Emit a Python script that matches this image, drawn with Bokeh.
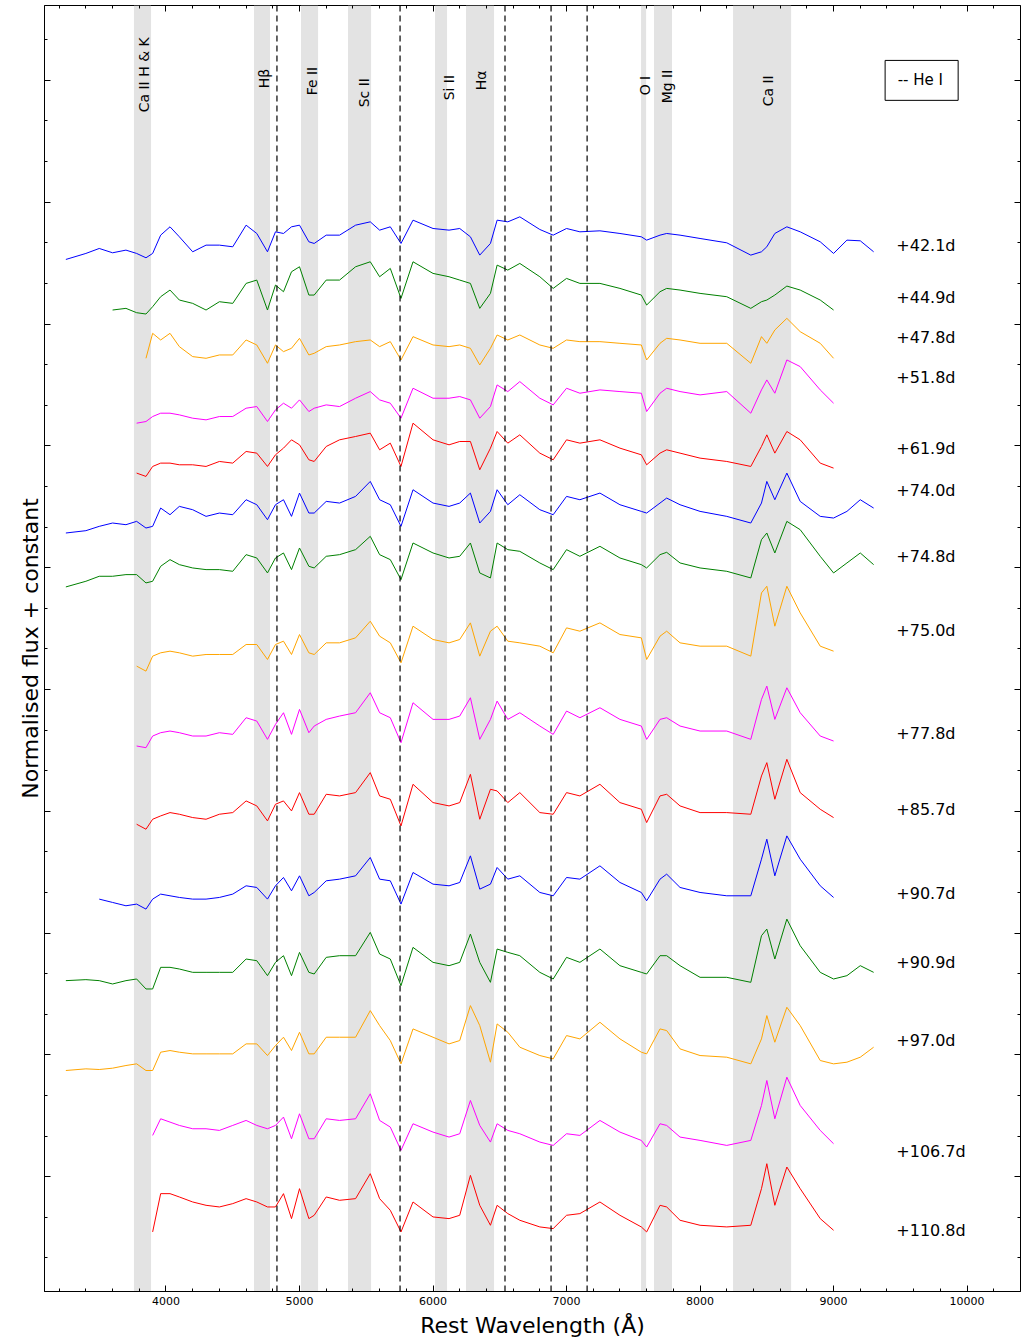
import math
import numpy as np
from bokeh.plotting import figure
from bokeh.models import (Range1d, BoxAnnotation, Span, LinearAxis, SingleIntervalTicker,
                          CustomJSTickFormatter)
from bokeh.embed import file_html
from bokeh.resources import INLINE
from bokeh.core.properties import value

FONT = "DejaVu Sans"
N = None

# Rest wavelength grid (Angstrom)
wave = [3250, 3400, 3500, 3600, 3700, 3780, 3850, 3900, 3960, 4030, 4100, 4200, 4300, 4400, 4500,
        4600, 4680, 4760, 4820, 4880, 4940, 5000, 5070, 5110, 5200, 5300, 5420, 5530, 5600, 5680,
        5760, 5850, 6000, 6120, 6200, 6280, 6350, 6430, 6480, 6560, 6650, 6800, 6900, 7000, 7100,
        7250, 7400, 7560, 7600, 7700, 7750, 7850, 8000, 8200, 8380, 8460, 8500, 8560, 8650, 8750,
        8900, 9000, 9100, 9200, 9300]

# Flux readings (depth units, larger = lower), one list per epoch
f_42_1 = [178,160,145,158,150,160,173,160,105,80, 110,155,135,135,140,75,100,155,95,100,
          80,75,125,130,105,105,75,65,90,80, 130,60,85,90,85,110,165,130,60,65,
          50,88,105,85,95,92,100,110,120,105, 100,105,115,128,165,155,140,100,80,95,
          125,160,120,122,155]
f_44_9 = [N,N,N, 330,325,338,342,320,290,270,300,310,330, 305,310,250,240,330,255,275,215,200,285,
          285,240,240,200,185,230,205,295,185,220, 230,240,250,325,280,195,210,190,230,265,
          235,250,250,265,285,315,275,265,270,280, 290,325,305,300,285,258,270,300,330, N,N,N]
f_47_8 = [N,N,N,N,N,N, 475,400,420,400,440,470,475,465,465,420, 435,490,435,455,445,415,465,460,440,435,
          425,420,440,425,480,410,435,440,435,445, 495,445,405,420,405,435,445,420,425,425,
          430,435,480,430,415,420,430,430,490,410, 430,390,355,395,430,475, N,N,N]
f_51_8 = [N,N,N,N,N, 670,665,650,640,640,645,655,660,650,650, 625,620,665,630,610,625,600,635,625,615,
          620,595,575,600,610,655,565,595,595,590, 600,655,620,555,575,545,595,615,565,580,
          570,575,580,635,580,565,575,585,575,640, 570,540,580,480,500,570,610, N,N,N]
f_61_9 = [N,N,N,N,N, 820,830,800,790,790,795,795,800,785,790, 755,760,800,765,745,720,735,780,785,740,
          720,710,700,750,730,800,670,720,735,725, 725,810,745,695,730,705,760,780,720,730,
          720,745,765,795,760,750,760,775,785,800, 740,705,760,695,720,790,805, N,N,N]
f_74_0 = [160,153,140,130,135,125,145,140,85,105, 80,90,110,100,105,60,75,120,75,60,
          110,40,100,100,65,70,50,5,60,75, 140,30,70,80,70,40,130,95,30,75,
          45,90,105,50,60,40,75,95,100,70, 55,75,95,110,130,70,5,60,-20,65,
          110,115,95,60,85]
f_74_8 = [322,305,290,290,285,285,310,305,260,240, 255,265,270,270,275,225,235,280,235,220,
          270,205,260,265,230,225,210,170,225,240, 300,190,220,235,230,190,280,295,190,210,
          215,250,270,210,230,200,235,255,265,225, 218,250,265,275,295,180,160,220,125,150,
          230,280,250,220,255]
f_75_0 = [N,N,N,N,N, 560,575,530,520,515,520,530,525,525,525, 495,495,540,495,485,525,465,520,525,490,
          490,475,425,470,490,550,440,480,490,480, 430,530,455,440,485,490,500,520,445,455,
          430,465,475,540,470,455,490,500,500,530, 340,320,440,320,400,500,515, N,N,N]
f_77_8 = [N,N,N,N,N, 800,805,770,760,755,760,770,770,760,765, 715,725,780,735,700,765,690,760,740,720,
          710,700,640,700,715,790,670,720,720,710, 655,780,720,665,720,700,740,765,695,715,
          685,720,740,780,720,715,740,755,755,780, 660,620,720,625,700,770,785, N,N,N]
f_85_7 = [N,N,N,N,N, 195,210,180,170,160,165,175,180,165,160, 125,140,185,135,125,155,100,165,165,105,
          110,100,40,110,120,200,75,130,140,130, 45,180,90,95,130,100,160,165,100,110,
          75,130,150,190,110,105,140,160,160,165, 50,10,120,0,100,150,175, N,N,N]
f_90_7 = [N,N, 420,430,440,435,450,420,405,410,415,420, 420,415,405,380,385,420,380,355,395,350,
          410,400,365,360,350,295,360,365,435,340, 375,380,370,290,390,375,325,360,350,400,
          410,355,360,320,370,400,425,360,345,385, 400,410,410,300,240,350,230,300,380,415, N,N,N]
f_90_9 = [665,662,665,675,665,660,690,690,625,625, 630,640,640,640,640,600,605,650,610,590,
          650,580,640,645,595,590,590,520,585,600, 680,565,610,620,610,525,610,670,570,580,
          590,640,660,595,610,570,620,640,645,590, 590,620,655,655,670,530,510,600,480,560,
          640,660,650,620,640]
f_97_0 = [95,90,92,88,80,75,95,95,40,35, 40,45,45,45,45,15,15,50,20,-5,
          35,-20,45,45,-5,-5,-5,-85,-40,5, 75,-30,-5,15,5,-100,-40,70,-45,-20,
          25,50,60,-10,0,-50,0,40,45,-30, -25,30,50,55,75,0,-70,10,-95,-40,
          65,75,70,55,25]
f_106_7 = [N,N,N,N,N,N,N, 290,240,250,260,270,270,275,260,245,260, 270,260,235,300,225,300,300,240,245,240,
           165,245,265,335,255,280,295,285,185,260, 310,255,275,285,310,320,285,290,245,280,
           305,325,255,260,295,305,320,305,200,125, 240,115,200,275,315, N,N,N]
f_110_8 = [N,N,N,N,N,N,N, 580,465,465,475,490,500,505,495,480,490, 505,505,465,540,450,540,530,475,485,480,
           405,480,515,580,490,535,540,530,410,500, 560,500,525,545,565,570,530,525,490,530,
           565,580,500,505,545,560,565,560,450,375, 500,385,450,540,575, N,N,N]

spectra = [f_42_1, f_44_9, f_47_8, f_51_8, f_61_9, f_74_0, f_74_8, f_75_0, f_77_8,
           f_85_7, f_90_7, f_90_9, f_97_0, f_106_7, f_110_8]
offsets = [11.0]*5 + [8.2]*4 + [5.4]*3 + [2.6]*3
colors = ["#0000ff", "#008000", "#ffa500", "#ff00ff", "#ff0000"] * 3
phases = ["+42.1d", "+44.9d", "+47.8d", "+51.8d", "+61.9d", "+74.0d", "+74.8d", "+75.0d",
          "+77.8d", "+85.7d", "+90.7d", "+90.9d", "+97.0d", "+106.7d", "+110.8d"]
phase_y = [10.55, 10.03, 9.62, 9.22, 8.51, 8.09, 7.43, 6.69, 5.66, 4.90, 4.06, 3.37, 2.58, 1.47, 0.68]
phase_x = 9470

band_names = ["Ca II H & K", "H\u03b2", "Fe II", "Sc II", "Si II", "H\u03b1", "O I", "Mg II", "Ca II"]
band_lo = [3760, 4659, 5011, 5363, 6015, 6247, 7558, 7655, 8247]
band_hi = [3888, 4779, 5139, 5536, 6105, 6457, 7596, 7790, 8682]
label_x = [3835, 4734, 5094, 5483, 6120, 6360, 7588, 7753, 8509]
label_y = [11.88, 12.12, 12.05, 11.93, 12.00, 12.10, 12.05, 11.97, 11.94]
he_lines = [4831, 5753, 6539, 6884, 7154]

p = figure(width=1022, height=1340, output_backend="svg", toolbar_location=None,
           x_range=Range1d(3090, 10400), y_range=Range1d(0.07, 12.95),
           min_border_left=44, min_border_right=2, min_border_top=5, min_border_bottom=47)
p.grid.visible = False
p.outline_line_color = "black"
p.outline_line_width = 1

for lo, hi in zip(band_lo, band_hi):
    p.add_layout(BoxAnnotation(left=lo, right=hi, fill_color="#e3e3e3", fill_alpha=1,
                               line_alpha=0, level="underlay"))
for w in he_lines:
    p.add_layout(Span(location=w, dimension="height", line_color="black",
                      line_dash="6 4", line_width=1.2))

for f, off, c in zip(spectra, offsets, colors):
    y = [np.nan if v is None else off - v / 300.0 for v in f]
    p.line(wave, y, line_color=c, line_width=1)

p.text(x=[phase_x]*len(phases), y=phase_y, text=phases, text_font=value(FONT),
       text_font_size="16px", text_baseline="middle", text_align="left", text_color="black")

p.text(x=label_x, y=label_y, text=band_names, angle=math.pi/2, text_font=value(FONT),
       text_font_size="14px", text_baseline="middle", text_align="left", text_color="black")

# He I legend box
p.quad(left=[9386], right=[9933], bottom=[12.00], top=[12.40], fill_color="white",
       line_color="black", line_width=1)
p.text(x=[9480], y=[12.20], text=["-- He I"], text_font=value(FONT), text_font_size="15px",
       text_baseline="middle", text_align="left")

blank = CustomJSTickFormatter(code="return ''")
p.xaxis.ticker = SingleIntervalTicker(interval=1000, num_minor_ticks=5)
p.xaxis.axis_label = "Rest Wavelength (\u00c5)"
p.yaxis.axis_label = "Normalised flux + constant"
p.yaxis.ticker = SingleIntervalTicker(interval=1.22, num_minor_ticks=3)
p.yaxis.formatter = blank

top = LinearAxis(ticker=SingleIntervalTicker(interval=1000, num_minor_ticks=5), formatter=blank,
                 major_label_standoff=0)
right = LinearAxis(ticker=SingleIntervalTicker(interval=1.22, num_minor_ticks=3), formatter=blank,
                   major_label_standoff=0)
p.add_layout(top, "above")
p.add_layout(right, "right")
for ax in [top, right]:
    ax.axis_line_color = None
    ax.major_label_text_font_size = "1px"

for ax in p.axis:
    ax.major_tick_in = 6
    ax.major_tick_out = 0
    ax.minor_tick_in = 3
    ax.minor_tick_out = 0
    ax.major_tick_line_color = "black"
    ax.minor_tick_line_color = "black"
    ax.axis_label_text_font = FONT
    ax.axis_label_text_font_style = "normal"
    ax.axis_label_text_font_size = "22px"
    ax.axis_label_text_color = "black"
    ax.major_label_text_font = FONT
    ax.major_label_text_color = "black"
p.xaxis[0].major_label_text_font_size = "13px"
p.xaxis[0].axis_label_standoff = 2
p.yaxis[0].axis_label_standoff = 2

open("out.html", "w").write(file_html(p, INLINE))
